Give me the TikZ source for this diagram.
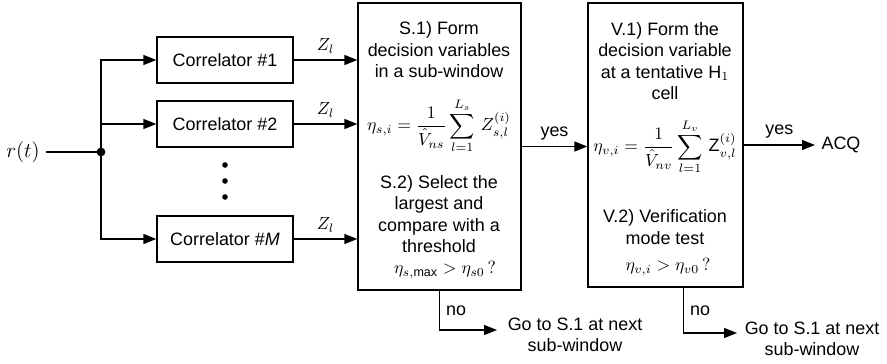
\documentclass[tikz,border=0pt]{standalone}
\usepackage{fontspec}
\setmainfont{Liberation Sans}
\usepackage{amsmath}
\usepackage{tikz}
\usetikzlibrary{arrows.meta, positioning, calc}

\begin{document}
\begin{tikzpicture}[x=0.02cm, y=-0.02cm, font=\fontsize{10.2}{12.2}\selectfont, line width=0.8pt,
          corr/.style={draw, minimum width=2.72cm, minimum height=0.92cm, inner sep=0pt},
          stage/.style={draw, inner sep=0pt},
          txt/.style={align=center, inner sep=0pt},
          arr/.style={-{Triangle[length=2.6mm, width=2mm]}}]
          \useasboundingbox (0,0) rectangle (887,364);
          \node (rt) at (23,152) {\fontsize{12}{14}\selectfont$r(t)$};
          \coordinate (jn) at (101,152);
          \node[corr] (c1) at (225,60) {Correlator \#1};
          \node[corr] (c2) at (225,124) {Correlator \#2};
          \node[corr] (cm) at (225,239) {Correlator \#\textit{M}};
          \node[stage, minimum width=3.26cm, minimum height=5.74cm] (sbox) at (439.5,146.5) {};
          \node[stage, minimum width=3.1cm, minimum height=5.68cm] (vbox) at (665.5,145) {};
          \draw (rt) -- (jn);
          \fill (jn) circle[radius=2.5pt];
          \draw[arr] (jn) |- (c1.west);
          \draw[arr] (jn) |- (c2.west);
          \draw[arr] (jn) |- (cm.west);
          \foreach \y in {165,181,197} \fill (225,\y) circle[radius=1.6pt];
          \draw[arr] (c1.east) -- node[above] (z1) {$Z_l$} (c1.east -| sbox.west);
          \draw[arr] (c2.east) -- node[above] (z2) {$Z_l$} (c2.east -| sbox.west);
          \draw[arr] (cm.east) -- node[above] (zm) {$Z_l$} (cm.east -| sbox.west);
          \node[txt] (s1) at (439,50) {S.1) Form\\decision variables\\in a sub-window};
          \node[txt] (seq) at (439,126) {$\displaystyle \eta_{s,i}=\frac{1}{\hat{V}_{ns}}\sum_{l=1}^{L_s}\,Z_{s,l}^{(i)}$};
          \node[txt] (s2) at (439,214) {S.2) Select the\\largest and\\compare with a\\threshold};
          \node[txt] (stest) at (445,270) {$\eta_{s,\max}>\eta_{s0}\,?$};
          \node[txt] (v1) at (665,61) {V.1) Form the\\decision variable\\at a tentative H$_1$\\cell};
          \node[txt] (veq) at (665,147) {$\displaystyle \eta_{v,i}=\frac{1}{\hat{V}_{nv}}\sum_{l=1}^{L_v}\,\mathrm{Z}_{v,l}^{(i)}$};
          \node[txt] (v2) at (665,227) {V.2) Verification\\mode test};
          \node[txt] (vtest) at (668,267) {$\eta_{v,i}>\eta_{v0}\,?$};
          \draw[arr] (sbox.east) -- node[above] (yes1) {yes} (sbox.east -| vbox.west);
          \node[anchor=west] (acq) at (815,145) {ACQ};
          \draw[arr] (vbox.east |- acq) -- node[above] (yes2) {yes} (acq.west);
          \node[txt] (sgo) at (575,335) {Go to S.1 at next\\sub-window};
          \node[txt] (vgo) at (812,339) {Go to S.1 at next\\sub-window};
          \coordinate (sto) at (497,330);
          \coordinate (vto) at (737,333);
          \draw[arr] (sbox.south) |- node[pos=.25, right] (sno) {no} (sto);
          \draw[arr] ($(vbox.south)+(18,0)$) |- node[pos=.25, right] (vno) {no} (vto);
        \end{tikzpicture}
\end{document}
